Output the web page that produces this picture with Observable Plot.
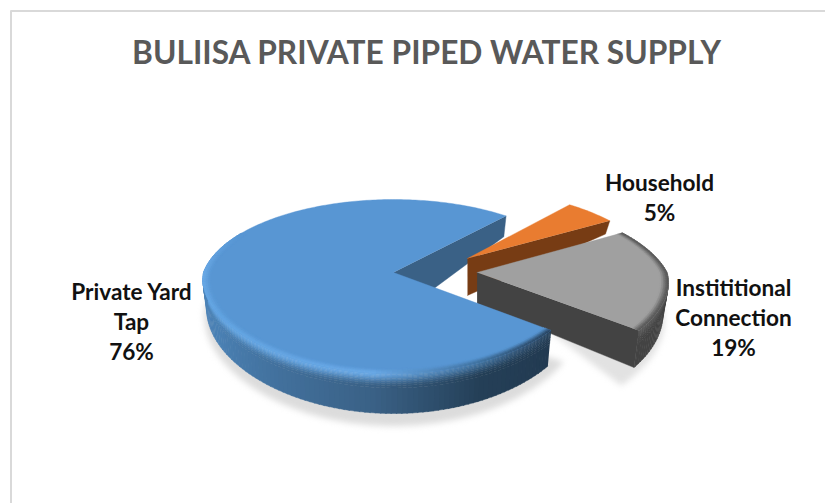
<!DOCTYPE html>
<html>
<head>
<meta charset="utf-8">
<script src="https://cdn.jsdelivr.net/npm/d3@7"></script>
<script src="https://cdn.jsdelivr.net/npm/@observablehq/plot@0.6"></script>
<style>
html,body{margin:0;padding:0;background:#fff}
svg{display:block}
</style>
</head>
<body>
<script>
const chartTitle = "BULIISA PRIVATE PIPED WATER SUPPLY";
const categories = ["Private Yard\nTap", "Household", "Instititional\nConnection"];
const shares = [76, 5, 19];

// layout of the pseudo-3D pie (perspective disc)
const W = 825, H = 503;
const cx = 393, cy = 272, R = 190, T = 84.75, k = 0.161, kNear = 0.08, shrink = 0.98;
const startAngle = 128;
const sliceLayout = [
  {du: 0,    dz: 0,    a: 29, b: 11, apex: 46},
  {du: 0.40, dz: 0.17, a: 45, b: 47, apex: 37},
  {du: 0.44, dz: 0,    a: 31, b: 10, apex: 31}
];
const labelX = [131, 659, 733], labelY = [320, 196, 316];

const rad = d => d * Math.PI / 180;
function P(s, r, deg, t) {
  const u = s.du + r * Math.sin(rad(deg)), z = s.dz + r * Math.cos(rad(deg));
  const sc = 1 / (1 + k * z), sx = z < 0 ? 1 / (1 + kNear * z) : sc;
  const x0 = R * u * sx, y0 = T * z * sc;
  return [cx + x0 * (1 - (1 - shrink) * t), cy - y0 + (s.a - s.b * z) * t];
}
function apexP(s, t) {
  const [x, y] = P({...s, a: 0, b: 0}, 0, 0, 0);
  return [x, y + s.apex * t];
}
let angle = startAngle;
const spans = shares.map(v => { const a0 = angle; angle += v * 3.6; return [a0, angle]; });

const polys = [], shadow = [];
let pid = 0;
function addPoly(list, pts, col) {
  const id = "p" + (pid++);
  for (const [px, py] of pts) list.push({id, px, py, col});
}
function arc(s, a0, a1, r, t) {
  const n = Math.max(2, Math.ceil(Math.abs(a1 - a0)));
  return d3.range(n + 1).map(i => P(s, r, a0 + (a1 - a0) * i / n, t));
}
function topFace(i, col) {
  const s = sliceLayout[i], [a0, a1] = spans[i];
  addPoly(polys, [apexP(s, 0), ...arc(s, a0, a1, 1, 0)], col);
}
function radialWall(i, deg, col) {
  const s = sliceLayout[i];
  addPoly(polys, [apexP(s, 0), P(s, 1, deg, 0), P(s, 1, deg, 1), apexP(s, 1)], col);
}
const ramp = (dom, cols) => d3.scaleLinear().domain(dom).range(cols).interpolate(d3.interpolateRgb).clamp(true);
const wallStops = [0, .03, .06, .09, .12, .16, .2, .25, .3, .36, 1];
const bevelStops = [.955, .965, .975, .985, .993, 1];
const smooth = v => { const c = Math.min(1, Math.max(0, v)); return c * c * (3 - 2 * c); };
function wallBand(i, a0, a1, Hc, Wc, step = 1.5) {
  const s = sliceLayout[i];
  for (let a = a0; a < a1; a += step) {
    const b = Math.min(a + step + 0.3, a1), m = (a + b) / 2;
    for (let j = 0; j + 1 < wallStops.length; ++j) {
      const t0 = wallStops[j], t1 = wallStops[j + 1];
      const c = d3.interpolateRgb(Hc(m), Wc(m))(smooth((t0 + t1) / 2 / .34));
      addPoly(polys, [P(s, 1, a, t0), P(s, 1, b, t0), P(s, 1, b, t1), P(s, 1, a, t1)], c);
    }
  }
}
function bevelBand(i, a0, a1, top, Hc, step = 1.5) {
  const s = sliceLayout[i];
  for (let a = a0; a < a1; a += step) {
    const b = Math.min(a + step + 0.3, a1), m = (a + b) / 2;
    for (let j = 0; j + 1 < bevelStops.length; ++j) {
      const r0 = bevelStops[j], r1 = bevelStops[j + 1];
      const c = d3.interpolateRgb(top, Hc(m))(smooth(((r0 + r1) / 2 - .955) / .045));
      addPoly(polys, [P(s, r0, a, 0), P(s, r0, b, 0), P(s, r1, b, 0), P(s, r1, a, 0)], c);
    }
  }
}

// shadows
const sb = sliceLayout[0];
addPoly(shadow, arc({...sb, a: 31, b: 14}, 120, 300, 1.015, 1.12), "#dcdcdc");
const sg = sliceLayout[2];
addPoly(shadow, arc({...sg, a: 34, b: 12}, 70, 135, 1.01, 1.05).concat([P(sg, .5, 128, 1)]), "#e2e2e2");

// painter's order
radialWall(0, spans[0][1] - 360, "#3a6186");
radialWall(1, spans[1][1], "#773c14");
topFace(1, "#e97c30");

const greyH = ramp([60, 85, 100, 112, 128], ["#949494", "#8e8e8e", "#d4d4d4", "#909090", "#585858"]);
wallBand(2, spans[2][0], spans[2][1], greyH, () => "#434343");
radialWall(2, spans[2][1], "#434343");
topFace(2, "#a0a0a0");
bevelBand(2, spans[2][0], spans[2][1], "#a0a0a0", greyH);

const blueH = ramp([128, 140, 155, 186, 243, 270, 300],
  ["#27425c", "#2f5070", "#3f6f9b", "#6aa9e6", "#63a5e2", "#6aa9e6", "#5896d3"]);
const blueW = ramp([128, 155, 186, 243, 300],
  ["#223a51", "#243f57", "#3a6186", "#4a80b3", "#4f88be"]);
wallBand(0, spans[0][0], 300, blueH, blueW);
topFace(0, "#5896d3");
bevelBand(0, spans[0][0], 300, "#5896d3", blueH);

const labels = categories.map((c, i) => ({text: `${c}\n${shares[i]}%`, lx: labelX[i], ly: labelY[i]}));
const font = "Lato, Carlito, sans-serif";

const chart = Plot.plot({
  width: W, height: H, margin: 0,
  x: {domain: [0, W], range: [0, W], axis: null},
  y: {domain: [0, H], range: [0, H], axis: null},
  style: {background: "#fff", fontFamily: font},
  marks: [
    Plot.ruleX([10.5], {y1: 10.5, y2: H, stroke: "#d9d9d9", strokeWidth: 2}),
    Plot.ruleY([10.5], {x1: 10.5, x2: W, stroke: "#d9d9d9", strokeWidth: 2}),
    Plot.line(shadow, {x: "px", y: "py", z: "id", fill: "col", stroke: "none", imageFilter: "blur(3px)"}),
    Plot.line(polys, {x: "px", y: "py", z: "id", fill: "col", stroke: "col", strokeWidth: 0.4}),
    Plot.text([chartTitle], {x: () => 426, y: () => 53, text: d => d, fontSize: 31.7, fontWeight: 700, fill: "#595959", fontFamily: font}),
    Plot.text(labels, {x: "lx", y: "ly", text: "text", fontSize: 22.6, fontWeight: 700, fill: "#111", lineHeight: 1.327, fontFamily: font})
  ]
});
document.body.appendChild(chart);
</script>
</body>
</html>
